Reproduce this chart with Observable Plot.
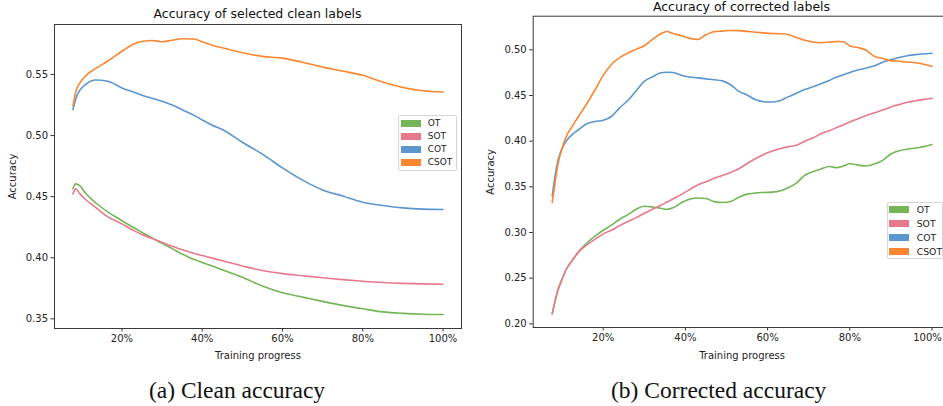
<!DOCTYPE html>
<html><head><meta charset="utf-8">
<script src="https://cdn.jsdelivr.net/npm/d3@7"></script>
<script src="https://cdn.jsdelivr.net/npm/@observablehq/plot@0.6"></script>
<style>
html,body{margin:0;padding:0;background:#fff;}
#root{position:relative;width:943px;height:406px;overflow:hidden;background:#fff;font-family:"DejaVu Sans",sans-serif;}
.abs{position:absolute;white-space:nowrap;}
.title{font-size:12.5px;line-height:12.5px;color:#111;transform:translateX(-50%);}
.cap{font-family:"Liberation Serif","Times New Roman",serif;font-size:23.5px;line-height:23.5px;color:#111;transform:translateX(-50%);}
.legend{border:1px solid #d6d6d6;border-radius:2px;background:rgba(255,255,255,0.85);box-sizing:border-box;}
.sw{position:absolute;width:20px;height:7px;}
.lt{position:absolute;font-size:9px;line-height:9px;color:#222;}
</style>
</head><body><div id="root"></div>
<script>
// ---------- data ----------
const seriesNames = ["OT", "SOT", "COT", "CSOT"];
const seriesColors = ["#74b657", "#e8798c", "#5b96d0", "#fa8632"];
const xTicks = [20, 40, 60, 80, 100];

// (a) clean accuracy, training progress in %
const cleanProgress = [7.8, 8.5, 9.5, 11, 13.5, 16.5, 20, 23, 25, 27.5, 30, 32.5, 35, 38, 40, 42.5, 45, 50, 55, 60, 65, 70, 75, 80, 85, 90, 95, 100];
const cleanOT   = [0.4564, 0.4605, 0.459, 0.4525, 0.4448, 0.4375, 0.4303, 0.4245, 0.4208, 0.4163, 0.4118, 0.4075, 0.4031, 0.3985, 0.3962, 0.3933, 0.3902, 0.384, 0.3768, 0.3713, 0.3678, 0.3643, 0.361, 0.3582, 0.3557, 0.3545, 0.3538, 0.3535];
const cleanSOT  = [0.4523, 0.4564, 0.4525, 0.4475, 0.441, 0.4335, 0.4277, 0.4222, 0.419, 0.4157, 0.4126, 0.4095, 0.4065, 0.4035, 0.4018, 0.3997, 0.3975, 0.3933, 0.3895, 0.387, 0.3853, 0.3836, 0.3821, 0.3808, 0.3797, 0.379, 0.3786, 0.3783];
const cleanCOT  = [0.5213, 0.530, 0.537, 0.542, 0.5455, 0.5445, 0.539, 0.5355, 0.533, 0.5305, 0.528, 0.525, 0.5212, 0.5165, 0.5128, 0.5085, 0.505, 0.4945, 0.4848, 0.4735, 0.4635, 0.4555, 0.4505, 0.4455, 0.4428, 0.4408, 0.4398, 0.4395];
const cleanCSOT = [0.524, 0.536, 0.543, 0.549, 0.555, 0.561, 0.569, 0.575, 0.577, 0.5778, 0.5768, 0.578, 0.5792, 0.579, 0.5768, 0.574, 0.5718, 0.5678, 0.5648, 0.5634, 0.560, 0.556, 0.5528, 0.5493, 0.5438, 0.5394, 0.5367, 0.5356];
const cleanYTicks = [0.35, 0.40, 0.45, 0.50, 0.55];

// (b) corrected accuracy
const corrProgress = [7.6, 8.3, 9, 10, 11, 12.5, 14, 16, 18, 20, 22, 24, 26, 28, 30, 32, 34, 35.5, 37, 39, 41, 43, 45, 47, 49, 51, 53, 55, 57, 59, 61, 63, 65, 67, 69, 71, 73, 75, 77, 78.5, 80, 82, 84, 86, 88, 90, 92, 94, 96, 98, 100];
const corrOT   = [0.211, 0.225, 0.237, 0.249, 0.2595, 0.2698, 0.279, 0.2885, 0.296, 0.3025, 0.308, 0.3145, 0.3195, 0.3255, 0.3288, 0.328, 0.3265, 0.3253, 0.327, 0.3325, 0.3365, 0.3378, 0.3372, 0.3338, 0.3328, 0.334, 0.3385, 0.342, 0.3432, 0.3438, 0.3442, 0.3455, 0.349, 0.354, 0.3625, 0.3665, 0.3695, 0.3722, 0.371, 0.3728, 0.3752, 0.3738, 0.3728, 0.375, 0.379, 0.386, 0.3895, 0.3912, 0.3925, 0.394, 0.3964];
const corrSOT  = [0.211, 0.225, 0.237, 0.249, 0.2595, 0.2695, 0.2785, 0.2865, 0.2925, 0.2985, 0.3025, 0.3075, 0.312, 0.3163, 0.321, 0.3255, 0.3298, 0.3333, 0.3368, 0.3415, 0.347, 0.352, 0.3555, 0.3595, 0.3625, 0.3658, 0.3698, 0.3755, 0.3807, 0.3855, 0.389, 0.3918, 0.394, 0.3955, 0.400, 0.4035, 0.408, 0.4115, 0.4152, 0.418, 0.421, 0.4245, 0.428, 0.431, 0.434, 0.4375, 0.440, 0.4425, 0.4442, 0.4457, 0.447];
const corrCOT  = [0.340, 0.362, 0.379, 0.392, 0.400, 0.4075, 0.4125, 0.419, 0.4215, 0.4228, 0.427, 0.4365, 0.4445, 0.455, 0.4655, 0.4705, 0.4748, 0.4755, 0.4752, 0.4722, 0.4702, 0.4693, 0.4682, 0.4672, 0.466, 0.4618, 0.4545, 0.4505, 0.4455, 0.4432, 0.4428, 0.4443, 0.4485, 0.4525, 0.4565, 0.4595, 0.4628, 0.4665, 0.4705, 0.4728, 0.4752, 0.4778, 0.480, 0.4825, 0.4865, 0.489, 0.4915, 0.4935, 0.4947, 0.4955, 0.4962];
const corrCSOT = [0.333, 0.355, 0.375, 0.392, 0.405, 0.4165, 0.427, 0.441, 0.456, 0.472, 0.484, 0.4915, 0.4965, 0.5005, 0.5045, 0.5115, 0.5175, 0.520, 0.5178, 0.5155, 0.5125, 0.5113, 0.5165, 0.5198, 0.5205, 0.5212, 0.521, 0.5202, 0.5193, 0.5185, 0.5178, 0.5176, 0.5168, 0.5135, 0.5105, 0.5085, 0.5078, 0.5085, 0.5091, 0.5088, 0.5043, 0.5025, 0.4995, 0.4928, 0.4905, 0.4882, 0.4875, 0.4866, 0.4858, 0.4842, 0.482];
const corrYTicks = [0.20, 0.25, 0.30, 0.35, 0.40, 0.45, 0.50];

// ---------- build ----------
function toRows(xs, cols) {
  const rows = [];
  seriesNames.forEach((name, i) => xs.forEach((x, j) => rows.push({series: name, x, y: cols[i][j]})));
  return rows;
}

const pct = d => d + "%";

function panel({rows, width, height, mL, mR, mT, mB, xDomain, yDomain, yTicks, yLabelOffset, xLabelOffset, lastDx}) {
  const lastTick = xTicks[xTicks.length - 1];
  const xAxes = lastDx
    ? [
        Plot.axisX({ticks: xTicks, tickFormat: d => d === lastTick ? "" : pct(d), tickSize: 3.5, tickPadding: 2.5, stroke: "#333",
          label: "Training progress", labelAnchor: "center", labelArrow: "none", labelOffset: xLabelOffset}),
        Plot.axisX({ticks: [lastTick], tickFormat: pct, tickSize: 0, tickPadding: 6, dx: lastDx, label: null})
      ]
    : [
        Plot.axisX({ticks: xTicks, tickFormat: pct, tickSize: 3.5, tickPadding: 2.5, stroke: "#333",
          label: "Training progress", labelAnchor: "center", labelArrow: "none", labelOffset: xLabelOffset})
      ];
  return Plot.plot({
    width, height, marginLeft: mL, marginRight: mR, marginTop: mT, marginBottom: mB,
    style: {fontFamily: "DejaVu Sans, sans-serif", fontSize: "10px", color: "#222", background: "transparent", overflow: "visible"},
    x: {domain: xDomain},
    y: {domain: yDomain},
    color: {domain: seriesNames, range: seriesColors},
    marks: [
      Plot.line(rows, {x: "x", y: "y", z: "series", stroke: "series", strokeWidth: 1.6, curve: "monotone-x"}),
      Plot.frame({stroke: "#3a3a3a", strokeWidth: 1}),
      ...xAxes,
      Plot.axisY({ticks: yTicks, tickFormat: d3.format(".2f"), tickSize: 3.5, tickPadding: 3, stroke: "#333",
        label: "Accuracy", labelAnchor: "center", labelArrow: "none", labelOffset: yLabelOffset})
    ]
  });
}

const root = document.getElementById("root");

function place(el, left, top) {
  el.style.position = "absolute"; el.style.left = left + "px"; el.style.top = top + "px";
  root.appendChild(el);
}

const left = panel({
  rows: toRows(cleanProgress, [cleanOT, cleanSOT, cleanCOT, cleanCSOT]),
  width: 470, height: 365, mL: 54, mR: 9, mT: 24, mB: 37,
  xDomain: [3.2, 104.6], yDomain: [0.3421, 0.5909], yTicks: cleanYTicks,
  yLabelOffset: 46, xLabelOffset: 30
});
place(left, 0, 0);

const right = panel({
  rows: toRows(corrProgress, [corrOT, corrSOT, corrCOT, corrCSOT]),
  width: 490, height: 365, mL: 62.7, mR: 9.6, mT: 15.7, mB: 38,
  xDomain: [2.97, 104.6], yDomain: [0.196, 0.5368], yTicks: corrYTicks,
  yLabelOffset: 46, xLabelOffset: 31, lastDx: -4.5
});
place(right, 470, 0);

function text(cls, str, x, top) {
  const d = document.createElement("div");
  d.className = "abs " + cls; d.textContent = str;
  d.style.left = x + "px"; d.style.top = top + "px";
  root.appendChild(d);
}
text("title", "Accuracy of selected clean labels", 257.5, 8.4);
text("title", "Accuracy of corrected labels", 741.5, 1.3);
text("cap", "(a) Clean accuracy", 237, 378.6);
text("cap", "(b) Corrected accuracy", 718.7, 378.6);

function legend(x, y, w, h, firstRow, step, swX, txtX, fs) {
  const box = document.createElement("div");
  box.className = "abs legend";
  box.style.left = x + "px"; box.style.top = y + "px";
  box.style.width = w + "px"; box.style.height = h + "px";
  seriesNames.forEach((name, i) => {
    const cy = firstRow + i * step;
    const sw = document.createElement("div");
    sw.className = "sw"; sw.style.background = seriesColors[i];
    sw.style.left = swX + "px"; sw.style.top = (cy - 3.5) + "px";
    box.appendChild(sw);
    const t = document.createElement("div");
    t.className = "lt"; t.textContent = name; t.style.fontSize = fs + "px"; t.style.lineHeight = fs + "px";
    t.style.left = txtX + "px"; t.style.top = (cy - fs / 2) + "px";
    box.appendChild(t);
  });
  root.appendChild(box);
}
legend(398, 115, 59, 56, 7.3, 13.1, 2, 28.7, 9);
legend(886.7, 202.3, 56, 57, 6, 14, 1.6, 29, 9.3);
</script></body></html>
